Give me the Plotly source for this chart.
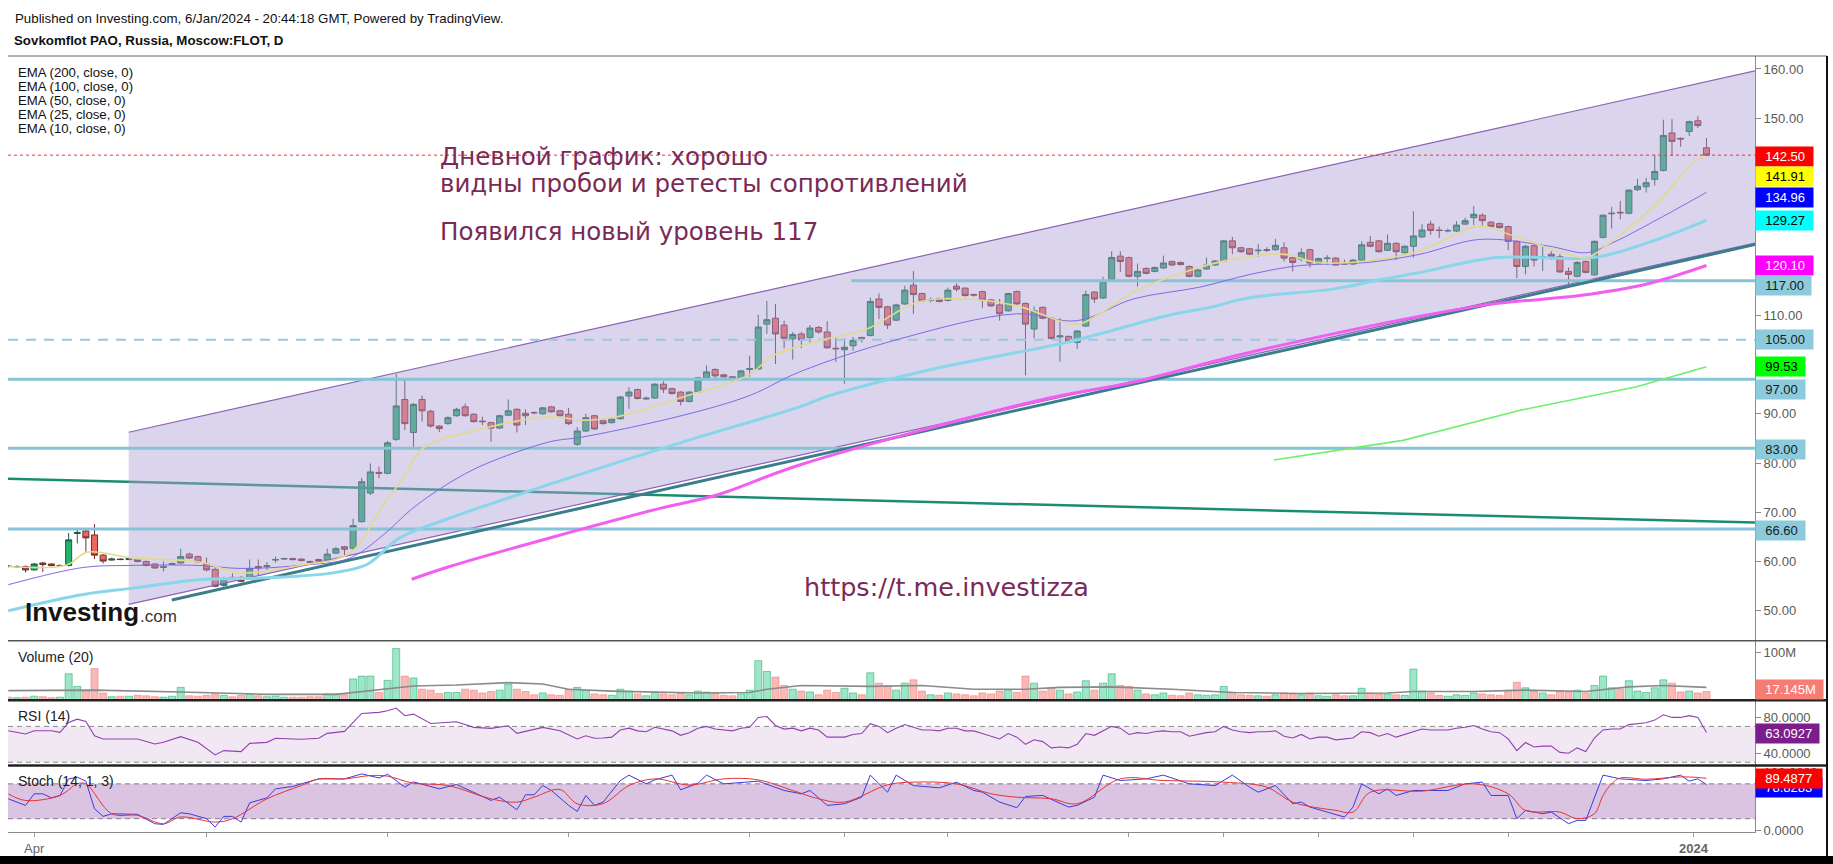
import plotly.graph_objects as go

# ---------------- data ----------------
opens = [59.1,58.9,59.0,58.3,59.7,59.5,59.1,59.2,65.7,66.2,
65.4,61.3,60.3,60.5,60.4,60.6,60.0,59.5,58.8,59.4,
59.7,61.5,61.0,59.5,58.4,55.2,56.8,56.8,56.5,59.0,
59.0,60.3,60.5,60.6,60.5,60.0,60.4,60.3,61.7,63.0,
62.7,68.1,73.9,78.1,77.9,84.8,92.9,86.2,92.9,90.5,
87.5,88.0,89.6,91.4,89.9,88.5,88.2,87.1,89.7,90.9,
90.1,90.25,90.0,91.4,90.6,89.9,83.8,86.5,89.6,88.6,
88.2,89.0,93.6,94.9,93.0,93.2,96.0,95.1,94.4,92.5,
94.4,97.3,99.0,97.9,97.5,97.1,99.0,99.1,108.2,109.4,
108.0,105.2,106.2,105.5,107.5,106.6,103.3,103.0,103.8,105.5,
105.9,113.3,111.7,109.0,112.3,116.1,114.4,113.0,113.4,113.0,
115.9,115.5,114.2,114.8,113.1,112.1,110.9,114.8,112.4,107.2,
111.6,109.4,105.6,105.7,104.5,107.8,114.7,113.5,117.3,122.0,
121.7,117.9,119.5,118.9,119.6,120.9,120.7,119.9,117.9,119.4,
120.2,121.0,125.1,123.7,123.5,123.1,123.3,123.3,123.7,121.7,
121.4,123.3,120.6,121.5,121.6,120.5,120.4,121.2,124.8,125.1,
123.2,124.6,122.7,124.0,125.9,128.5,127.3,127.1,127.1,128.5,
129.8,130.3,128.9,128.6,128.0,125.0,119.9,124.1,121.8,122.4,
121.9,118.9,117.9,120.9,118.2,125.8,130.6,130.9,130.7,135.5,
136.1,137.6,139.4,147.0,145.9,147.3,149.5,144.0]
highs = [59.3,59.2,59.2,59.7,59.9,59.6,59.4,65.8,66.4,66.6,
67.6,61.5,60.8,60.6,60.7,60.8,60.2,59.6,60.0,59.8,
62.6,61.8,61.2,60.8,58.8,56.9,57.6,57.0,60.4,60.4,
59.9,61.0,60.8,60.8,60.6,60.2,60.6,62.6,63.0,63.2,
68.7,77.0,79.9,79.3,84.5,98.1,97.0,92.2,93.7,90.8,
87.7,89.5,91.2,92.1,90.1,89.4,88.4,89.8,92.9,91.1,
90.9,90.5,91.4,91.6,90.8,91.2,87.3,90.0,89.8,88.8,
89.1,93.6,95.4,95.1,93.5,96.2,96.6,95.3,94.6,94.6,
97.5,99.8,99.2,98.1,97.7,98.9,101.8,110.1,112.9,112.3,
108.9,106.6,106.6,108.0,107.8,108.8,105.4,105.3,105.6,105.6,
113.6,114.4,111.9,112.3,116.0,119.0,114.6,113.6,113.6,115.6,
116.5,115.7,114.4,115.0,113.3,113.3,114.6,115.0,112.6,111.8,
111.8,109.6,109.4,105.9,107.0,115.0,114.9,117.8,123.0,123.0,
121.9,120.5,119.7,119.9,122.1,121.1,120.9,120.1,119.4,121.7,
121.2,125.3,125.9,123.9,123.7,124.5,123.8,125.5,124.8,121.9,
123.6,123.5,121.7,122.2,121.8,121.3,121.4,125.0,126.1,125.3,
126.4,124.8,124.2,131.1,128.5,129.2,128.0,127.6,129.1,129.8,
132.2,130.7,129.1,128.8,128.2,125.2,124.3,124.8,124.1,123.0,
122.4,119.7,121.0,121.1,125.2,130.5,132.0,133.2,135.6,137.7,
137.9,142.6,149.7,149.8,146.1,149.5,150.4,146.0]
lows = [58.8,58.7,57.8,58.2,57.9,59.0,58.9,59.0,63.7,62.0,
60.5,59.6,60.2,60.3,60.3,59.8,59.0,58.5,58.0,59.3,
59.5,60.5,59.7,58.0,54.8,54.9,56.3,55.8,56.3,57.3,
58.3,59.8,60.4,60.2,60.0,59.6,59.9,60.1,61.5,61.3,
62.5,67.9,73.5,76.9,77.7,84.5,86.7,83.0,88.4,87.2,
86.3,87.8,89.4,89.4,88.2,87.7,84.3,86.9,89.5,86.2,
87.7,89.9,89.8,90.2,89.4,87.7,83.5,86.3,86.7,87.8,
88.0,88.8,91.0,92.9,92.8,93.0,94.2,93.9,91.7,92.3,
94.2,97.1,96.8,97.3,96.9,96.9,97.5,98.9,106.2,100.1,
103.3,101.0,103.3,104.2,106.3,103.2,100.5,96.1,102.8,104.5,
105.7,109.2,107.2,108.8,112.1,110.3,112.7,112.6,112.6,112.8,
114.8,113.8,113.8,111.5,111.7,108.9,110.7,112.1,97.8,105.3,
109.2,105.1,100.6,104.5,103.2,107.6,112.5,113.3,116.8,118.8,
117.7,115.8,118.3,118.7,119.4,120.0,120.1,117.7,117.7,119.2,
120.0,120.8,122.4,122.7,122.2,121.9,122.8,123.1,120.9,118.9,
120.9,119.7,120.4,120.2,120.0,120.2,120.2,121.0,123.8,122.7,
123.0,121.2,122.5,121.7,125.7,126.3,125.7,126.8,126.9,128.3,
128.3,127.9,127.8,127.6,123.2,117.5,118.3,119.9,119.0,121.3,
118.6,116.3,117.7,118.5,118.0,125.6,127.6,129.5,130.5,135.2,
134.9,136.3,139.2,142.4,144.2,146.4,148.0,142.3]
closes = [59.0,59.0,58.3,59.5,59.4,59.2,59.2,64.4,65.9,64.8,
61.3,60.1,60.5,60.4,60.6,60.0,59.2,58.7,58.95,59.6,
61.0,60.7,59.9,58.3,55.0,56.5,56.6,56.0,58.6,58.7,
59.15,60.4,60.6,60.4,60.2,59.8,60.1,61.5,62.6,62.5,
67.3,76.2,78.2,77.9,84.1,91.6,88.0,91.9,90.6,87.5,
87.0,89.2,90.9,89.6,88.4,88.4,87.1,89.6,90.6,87.7,
89.6,90.2,91.2,90.4,89.6,88.0,86.5,89.2,86.9,88.0,
88.9,93.4,94.4,93.1,93.15,96.0,95.0,94.1,92.5,94.4,
97.3,98.5,97.7,97.5,97.1,98.7,99.15,107.6,109.1,106.2,
105.3,106.1,105.0,107.4,106.6,103.4,103.2,103.5,104.9,105.3,
112.8,111.6,108.0,112.1,115.1,114.2,112.9,113.1,112.8,115.1,
115.3,114.0,114.1,113.1,111.9,110.3,114.4,112.3,108.2,110.9,
109.4,105.3,105.8,104.7,106.8,114.2,113.3,116.9,121.7,120.9,
117.9,118.9,118.5,119.7,120.6,120.2,120.3,117.9,119.2,120.2,
121.0,125.1,123.7,122.9,122.4,123.2,123.2,124.2,121.6,120.7,
122.7,120.6,121.5,121.6,120.2,120.4,121.2,124.3,124.0,122.9,
124.6,122.9,124.0,126.1,127.3,127.2,127.2,127.2,128.3,129.2,
130.5,129.2,128.0,127.8,125.0,119.9,124.0,121.2,121.9,121.9,
118.8,118.3,120.7,118.7,125.0,130.3,130.7,130.8,135.4,136.2,
136.9,139.2,146.5,145.3,145.8,149.3,148.5,142.5]

volumes = [5,4,5,7,6,4,5,55,28,19,
66,14,6,7,7,9,8,6,5,7,
26,8,7,9,12,9,6,9,12,8,
6,7,5,5,5,6,6,12,12,10,
44,50,50,15,41,109,50,46,22,20,
13,15,15,22,20,14,17,20,33,22,
17,10,14,10,9,22,26,19,12,10,
9,22,18,12,8,16,12,10,14,10,
18,16,14,9,8,12,20,83,60,48,
30,22,18,16,10,20,15,24,14,10,
57,35,30,20,35,42,18,10,9,14,
12,10,8,14,12,18,20,15,50,35,
18,25,20,12,16,40,20,35,55,30,
28,20,12,10,14,9,8,14,10,9,
10,28,16,10,9,8,7,10,14,12,
10,14,8,7,10,8,8,24,14,12,
12,10,9,65,18,14,9,7,10,9,
14,12,10,9,20,37,25,18,14,10,
18,15,20,14,30,50,25,22,40,18,
15,25,42,35,16,18,14,17.145]

vol_ma_x = [0,10,20,30,38,42,44,47,52,58,62,65,70,80,86,88,92,100,106,112,118,122,128,135,142,150,160,163,170,176,183,188,192,197]
vol_ma_v = [19,20,16,11,11,19,22,29,31,36,33,22,18,14,15,22,30,28,30,22,22,26,27,22,15,13,14,17,17,20,17,27,30,26]

ema10_x = [0,6.8,9.1,14.5,22.2,26.9,33.8,39.6,43.5,45.8,48.1,55.1,62.8,66.7,70.6,78.3,86,88.7,94.5,99.6,105.4,111.2,117,124,126.6,130.5,136.3,142.1,147.9,151.8,157.6,163.8,170.7,174.6,180.4,183.1,186.1,191.3,195.9,197]
ema10_v = [59.0,59.3,61.9,60.7,59.9,57.7,59.2,61.7,71.5,76.9,83.0,87.0,89.4,88.7,89.4,93.4,98.0,101.8,105.0,107.2,112.6,113.3,111.9,108.2,110.3,114.7,118.7,121.4,122.4,120.7,121.0,123.1,128.1,126.1,122.7,121.7,125.1,132.8,141.6,141.91]
ema25_x = [0,8.7,13.9,22.2,26.9,33.8,39.6,43.5,46.9,51.2,55.1,62.8,66.7,78.3,86,91.8,103.4,117,124,130.5,138.2,144.1,149.9,157.6,163.8,170.7,178.5,183.1,186.1,192,197]
ema25_v = [55.3,58.8,59.2,59.2,58.6,59.2,60.7,65.4,70.8,76.0,79.6,84.3,85.3,89.7,93.7,98.5,105.2,110.3,108.9,113.3,115.7,118.3,120.1,120.7,122.4,125.4,124.1,122.7,124.7,130.1,134.96]
ema50_x = [0,8.7,14.5,22.2,30,37.7,41.6,45.4,51.2,54.4,66.7,78.3,91.8,95.3,107.3,122.8,134.4,139.4,144.1,153.7,159.1,163.8,172.7,183.9,190.8,197]
ema50_v = [50.0,53.3,54.6,56.3,56.7,57.7,59.4,64.8,68.8,70.8,77.9,84.3,91.4,93.7,99.1,104.5,109.9,111.6,113.6,115.3,117.2,118.7,121.7,121.7,125.1,129.27]
ema100_x = [46.8,51.2,75.6,82.2,91.8,120.5,130.5,144.1,170.7,182.3,190,193,197]
ema100_v = [56.4,59.0,70.8,73.5,79.6,93.1,96.4,102.5,111.9,114.0,116.3,117.8,120.10]
ema200_x = [146.8,161.8,175.4,188.9,197]
ema200_v = [80.6,84.6,90.7,95.5,99.53]

rsi_x = [0,2,3,5,6,7,8,9,10,11,12,15,17,18,20,22,24,25,27,28,30,31,33,34,36,37,39,40,41,43,44,45,46,47,49,52,54,56,58,59,62,64,66,67,68] + list(range(69, 198))
rsi_v = [65.2,61.5,65.2,65.2,63.3,74.4,78.1,75.5,59.6,55.9,55.9,55.9,50.4,52.2,58.5,52.2,38.1,43.0,41.8,51.1,52.2,56.7,55.9,55.6,56.7,62.2,64.4,74.4,84.4,85.6,87.4,90.4,81.9,83.7,73.3,75.2,68.9,67.8,70.7,62.2,68.9,65.2,55.9,59.6,56.7,
57,58,66,68,65,64,69,67,65,60,63,68,70,67,66,65,68,69,80,81,
71,67,68,65,68,66,58,58,58,61,62,73,70,63,68,72,69,66,66,65,
68,68,65,65,62,59,56,62,58,50,55,53,46,47,46,50,62,60,65,70,
68,61,63,62,64,65,64,64,59,61,63,64,70,66,64,63,64,64,65,59,
57,61,56,58,58,55,56,57,64,63,59,62,58,61,64,67,66,66,66,68,
69,71,67,64,63,56,43,52,47,48,48,41,40,46,42,57,66,67,67,72,
73,74,77,83,80,80,82,80,63.0927]

k_x = [0,2,3,4,5,6,7,8,9,10,11,12,15,17,18,20,21,23,24,25,26,27,28,30,31,33,34,36,39,41,43,44,46,47,50,52,56,57,59,60,61,62,63,65,66,67,68,
69,71,72,74,75,77,78,80,81,83,85,87,90,92,93,95,97,99,100,102,103,105,108,110,112,113,115,117,118,120,123,124,126,127,129,132,134,137,140,142,
144,145,147,149,150,151,155,156,157,159,160,161,163,165,167,169,171,172,174,175,176,178,179,181,182,183,185,187,190,192,194,195,196,197]
k_v = [54.2,42.9,62.8,62.8,55.9,60,88.5,91.4,84.6,37.1,24,28.5,27.4,11.3,10.3,30.2,28.5,19.9,5.7,24,24,14.2,47.3,55.9,71.4,75.5,80,88.5,88.5,97.1,90.2,96.6,74.3,83.4,71.4,78.9,51.5,57.1,35.3,61.1,61.1,77.2,68.6,42.9,32.6,60,42.9,
48.6,85.7,95,80,86.9,95,69.7,81.1,95,80,82.9,84.6,68.6,62.9,68.6,42.9,45.7,57.1,95,65.7,95,77.1,73.1,82.9,68.6,65.7,48.6,38.9,58.3,60,40,42.9,57.1,95,85.7,88.6,95,80,77.1,95,
74.3,65.7,77.1,45.7,48.6,40,22.9,40,80,62.9,71.4,60,68.6,68.6,68.6,80,82.9,60,60,20,34.3,28.6,31.4,11.4,17.1,17.1,95,88.6,85.7,88.6,95,84.6,88.6,78.8283]
d_x = [0,2,6,8,9,12,15,18,20,24,26,30,34,36,39,42,44,47,51,56,59,61,64,66,69,72,75,79,83,87,91,94,97,102,105,110,114,117,121,124,129,134,141,146,149,154,156,158,164,170,174,176,180,182,184,185,186,187,190,194,196,197]
d_v = [62.8,51.4,60,80,80,28.5,25.7,11.3,22.9,14.2,19.9,54.2,77.2,88.5,88.5,94.3,93.2,81.1,77.2,54.2,48.5,57.1,70.3,45.6,46,77,88.6,78,88.6,86.9,68.6,54.3,48.6,78.3,82.9,80,62.9,57,54.3,45.7,88.6,85.7,82.9,74.3,48.6,34.3,31.4,65.7,67.4,80,62.9,34.3,31.4,20,28.6,60,80,90,88,92,91,89.4877]

# drawn objects (endpoints, in candle index / price units)
XR = [-0.035, 202.63]
decl_x = [-0.035, 202.63]; decl_v = [76.8, 67.9]
chan_x = [13.96, 202.63]; chan_top = [86.25, 159.6]; chan_bot = [51.3, 124.65]
trend_x = [18.97, 202.63]; trend_v = [52.2, 124.35]
levels_full = [66.6, 83.0, 97.0]
level_117_x = [97.8, 202.63]; level_117 = 117.0
level_105 = 105.0
last_price = 142.5

tick_idx = [3, 23, 44, 65, 86, 97, 109, 130, 141, 152, 163, 174, 195.5]
tick_txt = ['Apr', '', '', '', '', '', '', '', '', '', '', '', '<b>2024</b>']

price_ticks = list(range(50, 161, 10))
price_hidden = [100, 120, 130, 140]   # covered by value tags in the reference

right_labels = [  # text, axis, value, bg, fg, yshift, width
    ('142.50', 'y', 142.5, '#ff0000', 'white', -1, 53),
    ('141.91', 'y', 141.91, '#ffff00', 'black', -18.6, 53),
    ('134.96', 'y', 134.96, '#0000ff', 'white', -5.5, 53),
    ('129.27', 'y', 129.27, '#00ffff', 'black', 0, 53),
    ('120.10', 'y', 120.10, '#ff00ff', 'white', 0, 53),
    ('117.00', 'y', 117.0, '#8ccbdb', '#1a1a1a', -5, 51),
    ('105.00', 'y', 105.0, '#8ccbdb', '#1a1a1a', 0, 53),
    ('99.53', 'y', 99.53, '#00ff00', 'black', 0, 45),
    ('97.00', 'y', 97.0, '#8ccbdb', '#1a1a1a', -10.6, 45),
    ('83.00', 'y', 83.0, '#8ccbdb', '#1a1a1a', -1, 45),
    ('66.60', 'y', 66.6, '#8ccbdb', '#1a1a1a', -1.5, 45),
    ('17.145M', 'y2', 17.145, '#f77c73', 'white', 2, 63),
    ('63.0927', 'y3', 63.0927, '#7c1d8c', 'white', -1, 59),
    ('78.8283', 'y4', 78.8283, '#0000ff', 'white', -2.5, 62),
    ('89.4877', 'y4', 89.4877, '#ff0000', 'white', 0, 62),
]

# ---------------- layout geometry (pixels) ----------------
W, H = 1833, 864
PL, PR, PT, PB = 8, 1755, 56, 835


def px(x):
    return (x - PL) / (PR - PL)


def py(y):
    return (PB - y) / (PB - PT)


FONT = 'Liberation Sans, Arial, sans-serif'
fig = go.Figure()

# declining trend line (under the channel fill)
fig.add_trace(go.Scatter(x=decl_x, y=decl_v, mode='lines', line=dict(color='#1b8c72', width=2.5), hoverinfo='skip'))
# channel
fig.add_trace(go.Scatter(x=[chan_x[0], chan_x[1], chan_x[1], chan_x[0]],
                         y=[chan_top[0], chan_top[1], chan_bot[1], chan_bot[0]],
                         mode='lines', fill='toself', fillcolor='rgba(176,160,214,0.45)',
                         line=dict(width=0), hoverinfo='skip'))
fig.add_trace(go.Scatter(x=chan_x, y=chan_top, mode='lines', line=dict(color='#8b62b8', width=1.2), hoverinfo='skip'))
fig.add_trace(go.Scatter(x=chan_x, y=chan_bot, mode='lines', line=dict(color='#8b62b8', width=1.2), hoverinfo='skip'))
# horizontal levels
for v in levels_full:
    fig.add_trace(go.Scatter(x=XR, y=[v, v], mode='lines', line=dict(color='#86c3d5', width=3), hoverinfo='skip'))
fig.add_trace(go.Scatter(x=level_117_x, y=[level_117, level_117], mode='lines',
                         line=dict(color='#86c3d5', width=3), hoverinfo='skip'))
fig.add_trace(go.Scatter(x=XR, y=[level_105, level_105], mode='lines',
                         line=dict(color='#9cc8de', width=2, dash='10px,8px'), hoverinfo='skip'))
# thick rising trend line
fig.add_trace(go.Scatter(x=trend_x, y=trend_v, mode='lines', line=dict(color='#3a7e8c', width=3), hoverinfo='skip'))
# EMAs
fig.add_trace(go.Scatter(x=ema200_x, y=ema200_v, mode='lines', line=dict(color='#6cf06c', width=1.6), hoverinfo='skip'))
fig.add_trace(go.Scatter(x=ema100_x, y=ema100_v, mode='lines', line=dict(color='#f25df2', width=3, shape='spline'), hoverinfo='skip'))
fig.add_trace(go.Scatter(x=ema50_x, y=ema50_v, mode='lines', line=dict(color='#88d6ea', width=3, shape='spline'), hoverinfo='skip'))
fig.add_trace(go.Scatter(x=ema25_x, y=ema25_v, mode='lines', line=dict(color='#7d6ae6', width=1, shape='spline'), hoverinfo='skip'))
fig.add_trace(go.Scatter(x=ema10_x, y=ema10_v, mode='lines', line=dict(color='#e3d98e', width=1.6, shape='spline'), hoverinfo='skip'))
# candles
idx = list(range(len(closes)))
fig.add_trace(go.Candlestick(x=idx, open=opens, high=highs, low=lows, close=closes,
                             increasing=dict(line=dict(color='#1f5a44', width=1), fillcolor='#22b46d'),
                             decreasing=dict(line=dict(color='#6a2f2f', width=1), fillcolor='#f0665c'),
                             whiskerwidth=0, hoverinfo='skip'))
# last price dotted line
fig.add_trace(go.Scatter(x=XR, y=[last_price, last_price], mode='lines',
                         line=dict(color='#e53935', width=1, dash='dot'), hoverinfo='skip'))

# volume
up = [c >= o for o, c in zip(opens, closes)]
fig.add_trace(go.Bar(x=idx, y=volumes, yaxis='y2', width=0.82,
                     marker=dict(color=['rgba(40,200,130,0.45)' if u else 'rgba(240,100,95,0.45)' for u in up],
                                 line=dict(color=['rgba(40,175,115,0.8)' if u else 'rgba(235,120,110,0.75)' for u in up], width=0.7)),
                     hoverinfo='skip'))
fig.add_trace(go.Scatter(x=vol_ma_x, y=vol_ma_v, yaxis='y2', mode='lines', line=dict(color='#8a8a8a', width=1.6), hoverinfo='skip'))

# RSI
fig.add_trace(go.Scatter(x=[XR[0], XR[1], XR[1], XR[0]], y=[70, 70, 30, 30], yaxis='y3', mode='lines', fill='toself',
                         fillcolor='#f2e8f4', line=dict(width=0), hoverinfo='skip'))
for v in (70, 30):
    fig.add_trace(go.Scatter(x=XR, y=[v, v], yaxis='y3', mode='lines', line=dict(color='#8a8a8a', width=1, dash='5px,4px'), hoverinfo='skip'))
fig.add_trace(go.Scatter(x=rsi_x, y=rsi_v, yaxis='y3', mode='lines', line=dict(color='#9140b0', width=1.1), hoverinfo='skip'))

# Stochastic
fig.add_trace(go.Scatter(x=[XR[0], XR[1], XR[1], XR[0]], y=[80, 80, 20, 20], yaxis='y4', mode='lines', fill='toself',
                         fillcolor='#dbc3e2', line=dict(width=0), hoverinfo='skip'))
for v in (80, 20):
    fig.add_trace(go.Scatter(x=XR, y=[v, v], yaxis='y4', mode='lines', line=dict(color='#8a7a8a', width=1, dash='5px,4px'), hoverinfo='skip'))
fig.add_trace(go.Scatter(x=k_x, y=k_v, yaxis='y4', mode='lines', line=dict(color='#3b3bdc', width=1), hoverinfo='skip'))
fig.add_trace(go.Scatter(x=d_x, y=d_v, yaxis='y4', mode='lines', line=dict(color='#e53434', width=1, shape='spline'), hoverinfo='skip'))

# ---------------- axes ----------------
ax_common = dict(side='right', anchor='x', showgrid=False, zeroline=False, showline=True, linecolor='#8c8c8c',
                 linewidth=1, ticks='outside', ticklen=5, tickcolor='#8c8c8c',
                 tickfont=dict(size=13, color='#5a5a5a', family=FONT), fixedrange=True)
main_bot, vol_top, vol_bot, rsi_bot = 643, 643.5, 702.7, 768.3
fig.update_layout(
    width=W, height=H, margin=dict(l=PL, r=W - PR, t=PT, b=H - PB),
    paper_bgcolor='white', plot_bgcolor='white', showlegend=False,
    font=dict(family=FONT), boxgap=0.3, boxgroupgap=0,
    xaxis=dict(domain=[0, 1], range=XR, anchor='y4', showgrid=False, zeroline=False, showline=True,
               linecolor='#8c8c8c', ticks='outside', ticklen=4, tickcolor='#9a9a9a',
               tickvals=tick_idx, ticktext=tick_txt, tickfont=dict(size=13, color='#666', family=FONT),
               rangeslider=dict(visible=False), fixedrange=True),
    yaxis=dict(domain=[py(main_bot), 1], range=[43.92, 162.63], tickvals=price_ticks,
               ticktext=['' if v in price_hidden else '%.2f' % v for v in price_ticks], **ax_common),
    yaxis2=dict(domain=[py(vol_bot), py(vol_top)], range=[-1.5, 124.5], tickvals=[100], ticktext=['100M'], **ax_common),
    yaxis3=dict(domain=[py(rsi_bot), py(vol_bot)], range=[26.3, 99.2], tickvals=[40, 80],
                ticktext=['40.0000', '80.0000'], **ax_common),
    yaxis4=dict(domain=[0, py(rsi_bot)], range=[-2.9, 111.5], tickvals=[0, 100],
                ticktext=['0.0000', '100.0000'], **ax_common),
)

# ---------------- frame lines ----------------
shapes = [
    dict(type='line', xref='paper', yref='paper', x0=0, x1=px(1827), y0=1, y1=1, line=dict(color='#666', width=1)),
    dict(type='line', xref='paper', yref='paper', x0=0, x1=px(1827), y0=py(main_bot), y1=py(main_bot), line=dict(color='#555', width=1.5)),
    dict(type='line', xref='paper', yref='paper', x0=0, x1=px(1827), y0=py(vol_bot), y1=py(vol_bot), line=dict(color='#222', width=2.5)),
    dict(type='line', xref='paper', yref='paper', x0=0, x1=px(1827), y0=py(rsi_bot), y1=py(rsi_bot), line=dict(color='#222', width=2.5)),
    dict(type='line', xref='paper', yref='paper', x0=px(1827), x1=px(1827), y0=1, y1=py(864), line=dict(color='#111', width=2)),
    dict(type='rect', xref='paper', yref='paper', x0=px(0), x1=px(1833), y0=py(859), y1=py(870), line=dict(width=0), fillcolor='#000'),
]
fig.update_layout(shapes=shapes)

# ---------------- texts ----------------
ann = []


def txt(x, y, s, size=13, color='#111', family=FONT, xanchor='left'):
    ann.append(dict(x=px(x), y=py(y), xref='paper', yref='paper', xanchor=xanchor, yanchor='middle',
                    text=s, showarrow=False, font=dict(size=size, color=color, family=family)))


txt(13, 18, 'Published on Investing.com, 6/Jan/2024 - 20:44:18 GMT, Powered by TradingView.', 13.3, '#111')
txt(12, 40, '<b>Sovkomflot PAO, Russia, Moscow:FLOT, D</b>', 13.3, '#111')
for k, lab in enumerate(['EMA (200, close, 0)', 'EMA (100, close, 0)', 'EMA (50, close, 0)',
                         'EMA (25, close, 0)', 'EMA (10, close, 0)']):
    txt(16, 72.5 + 14 * k, lab, 13.2, '#111')

RU = 'DejaVu Sans, Noto Sans, sans-serif'
txt(438, 157, 'Дневной график: хорошо', 24.5, '#7b2a55', RU)
txt(438, 184, 'видны пробои и ретесты сопротивлений', 24.5, '#7b2a55', RU)
txt(438, 232, 'Появился новый уровень 117', 24.5, '#7b2a55', RU)
txt(802, 589, 'https://t.me.investizza', 25.5, '#7b2a55', RU)

txt(23, 614, '<b>Investing</b>', 26, '#141414')
txt(138, 619, '.com', 17, '#333')

txt(16, 659, 'Volume (20)', 14, '#222')
txt(16, 719, 'RSI (14)', 14, '#222')
txt(16, 784, 'Stoch (14, 1, 3)', 14, '#222')

for text, axis, val, bg, fg, ysh, w in right_labels:
    ann.append(dict(x=1, xref='paper', y=val, yref=axis, xanchor='left', yanchor='middle', yshift=ysh,
                    text='\u00a0\u00a0' + text, showarrow=False, bgcolor=bg, borderpad=2, width=w, align='left',
                    font=dict(size=13, color=fg, family=FONT)))
fig.update_layout(annotations=ann)

fig.write_html('out.html', config={'displayModeBar': False},
               post_script="document.body.style.margin='0';document.body.style.padding='0';"
                           "document.body.style.overflow='hidden';")
